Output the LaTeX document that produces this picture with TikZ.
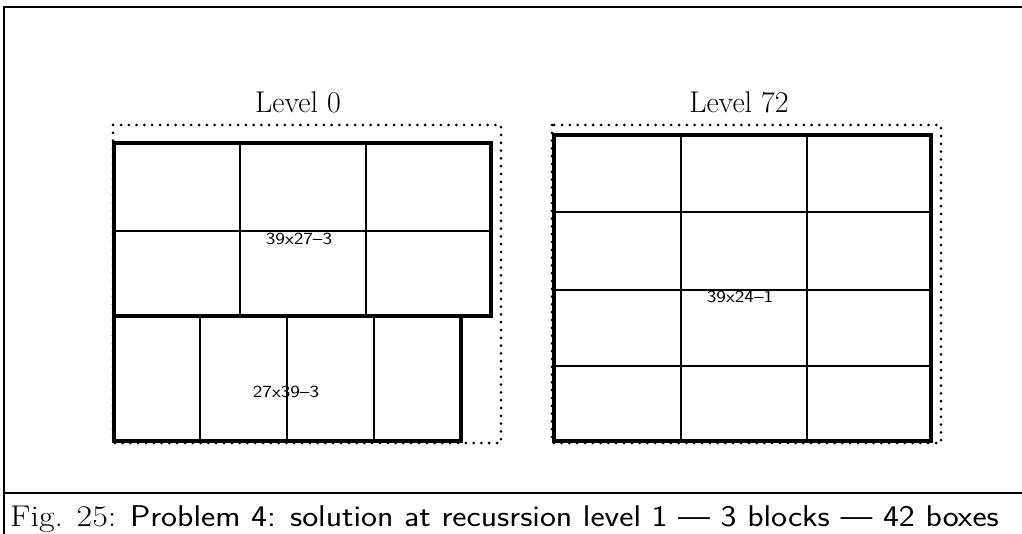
\documentclass[tikz,border=0pt]{standalone}
\usepackage{graphicx}
\usepackage{tikz}
\usetikzlibrary{positioning}
\definecolor{tinta}{HTML}{000000}

\begin{document}
\begin{tikzpicture}[x=1pt,y=-1pt,
  borda/.style={tinta, line width=3.4pt},
  grade/.style={tinta, line width=2pt},
  pontos/.style={tinta, line width=3pt, line cap=round, dash pattern=on 0pt off 7.8pt},
  moldura/.style={tinta, line width=2.2pt},
  rotulo/.style={font=\fontsize{30}{36}\selectfont},
  medida/.style={font=\sffamily\fontsize{17}{19}\selectfont}]
\useasboundingbox (0,0) rectangle (1022,534);
% moldura da figura
\draw[moldura] (1022,7) -- (4,7) -- (4,534);
\draw[moldura] (4,493) -- (1022,493);
% nivel 0
\node[rotulo, anchor=base] (nivel0) at (298,113) {Level 0};
\draw[pontos] (113,125) rectangle (501,443);
\draw[borda] (114,143) rectangle (491,316);
\foreach \x in {240,366}{
  \draw[grade] (\x,143) -- (\x,316);
}
\draw[grade] (114,231) -- (491,231);
\draw[borda] (114,316) rectangle (461,441);
\foreach \x in {200,287,374}{
  \draw[grade] (\x,316) -- (\x,441);
}
\node[medida] (bloco1) at (299,239) {\scalebox{1.2}[1]{39x27--3}};
\node[medida] (bloco2) at (286,392) {\scalebox{1.2}[1]{27x39--3}};
% nivel 72
\node[rotulo, anchor=base] (nivel72) at (739,113) {Level 72};
\draw[pontos] (552,125) rectangle (941,443);
\draw[borda] (554,135) rectangle (931,441);
\foreach \x in {681,807}{
  \draw[grade] (\x,135) -- (\x,441);
}
\foreach \y in {212,290,366}{
  \draw[grade] (554,\y) -- (931,\y);
}
\node[medida] (bloco3) at (740,297) {\scalebox{1.2}[1]{39x24--1}};
% legenda
\node[anchor=base west, font=\fontsize{30}{36}\selectfont, inner sep=0pt] (legenda) at (10,526)
  {\scalebox{1.13}[1]{Fig. 25: \textsf{Problem 4: solution at recusrsion level 1 --- 3 blocks --- 42 boxes}}};
\end{tikzpicture}
\end{document}
